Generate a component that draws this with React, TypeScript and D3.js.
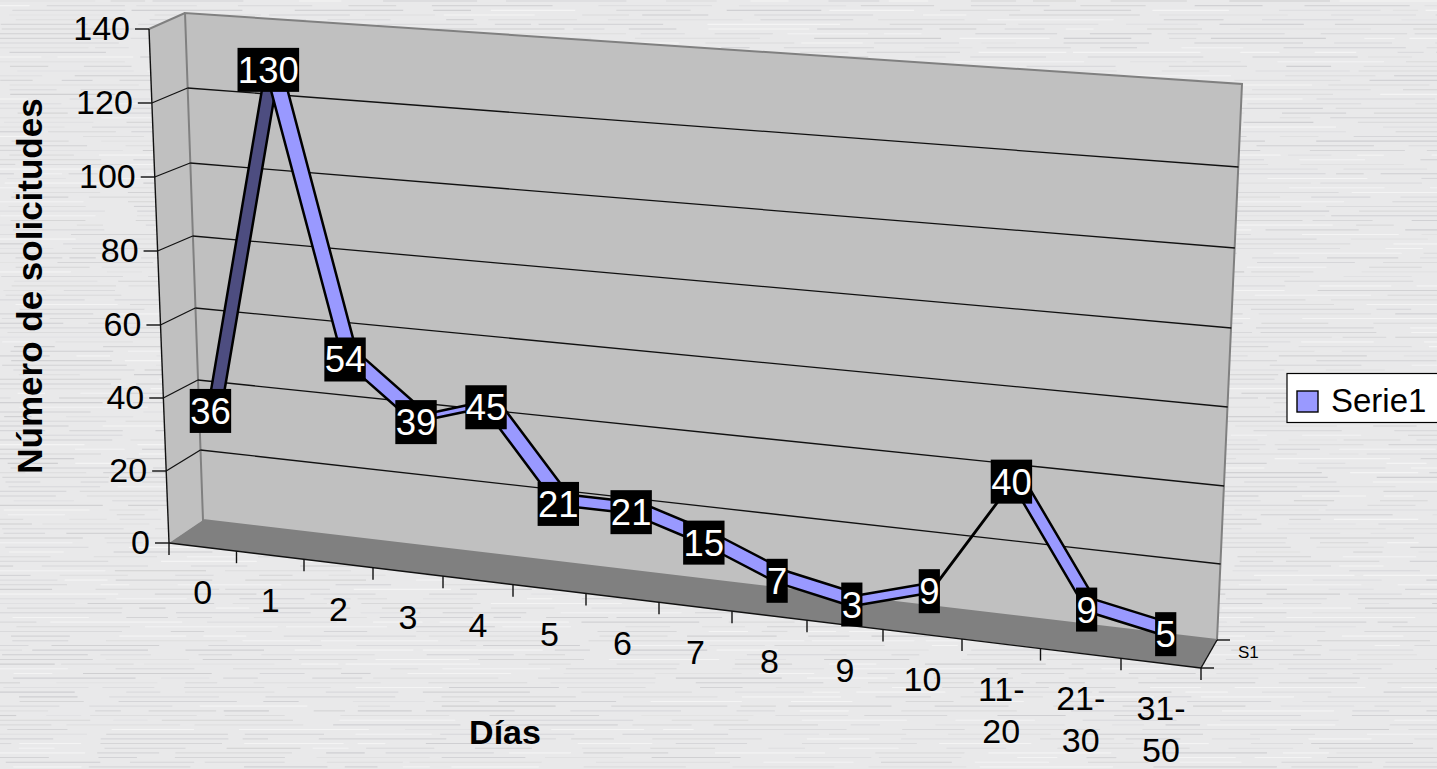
import React from "react";
import * as d3 from "d3";

const categories = ["0","1","2","3","4","5","6","7","8","9","10","11-20","21-30","31-50"];
const values = [36,130,54,39,45,21,21,15,7,3,9,40,9,5];
const yTicks = [0,20,40,60,80,100,120,140];
const yTitle = "Número de solicitudes";
const xTitle = "Días";
const seriesName = "Serie1";
const depthName = "S1";

const W = 1437, H = 769;
const FONT = "'Liberation Sans', Arial, sans-serif";

// frame geometry (scale ranges of the projected 3-D box)
const frontLeftY = d3.scaleLinear().domain(yTicks).range([543,471,398,325,251,177,103,29]);
const backLeftY = d3.scaleLinear().domain(yTicks).range([520,450,380,308,236,163,88,13]);
const backRightY = d3.scaleLinear().domain(yTicks).range([640,564,486,407,328,248,167,84]);
const frontRightY = (v:number) => 668 - (640 - backRightY(v)) * 1.014;
const frontLeftX = d3.scaleLinear().domain([0,140]).range([169,149]);
const backLeftX = d3.scaleLinear().domain([0,140]).range([203,185]);
const backRightX = d3.scaleLinear().domain([0,140]).range([1217,1242]);
const frontRightX = d3.scaleLinear().domain([0,140]).range([1201,1228]);
const xEdges = d3.scaleLinear().domain(d3.range(15)).range([169,236.5,304,373,443,513,586,659,732,807,883,962,1040.5,1121,1201]);

const lerp = (a:number,b:number,t:number) => a + (b-a)*t;
const project = (cat:number, v:number, d:number):[number,number] => {
  const u = (xEdges(cat) - 169) / (1201 - 169);
  const lx = lerp(frontLeftX(v), backLeftX(v), d), ly = lerp(frontLeftY(v), backLeftY(v), d);
  const rx = lerp(frontRightX(v), backRightX(v), d), ry = lerp(frontRightY(v), backRightY(v), d);
  return [lerp(lx,rx,u), lerp(ly,ry,u)];
};
const poly = (pts:[number,number][]) => (d3.line()(pts) ?? "") + "Z";

const D_FRONT = 0.28, D_BACK = 0.72, D_MID = 0.5;

function hash(a:number,b:number){ const s = Math.sin(a*127.1+b*311.7)*43758.5453; return s-Math.floor(s); }

function Streaks(){
  const out:React.ReactNode[] = [];
  const rows = d3.range(1, H, 4.67);
  rows.forEach((y,r)=>{
    let x = -20 + hash(r,0)*40;
    let k = 1;
    while(x < W){
      const len = 25 + hash(r,k)*110;
      const tone = hash(r,k+50);
      const light = tone > 0.8;
      out.push(<line key={r+"-"+k} x1={x} x2={x+len} y1={y} y2={y}
        stroke={light ? "#f6f6f6" : "#b8b8bc"} strokeWidth={1.1}
        strokeOpacity={light ? 0.8 : 0.12 + hash(r,k+90)*0.42} />);
      x += len + 6 + hash(r,k+130)*50;
      k++;
    }
  });
  return <g>{out}</g>;
}

export default function App(){
  const cx = (i:number)=> i+0.5;
  const segs = d3.pairs(values.map((v,i)=>({v,i})));
  const line = "#111";
  return (
    <svg width={W} height={H} viewBox={`0 0 ${W} ${H}`} style={{position:"fixed",left:0,top:0,display:"block"}} fontFamily={FONT}>
      <rect width={W} height={H} fill="#e9e9ea"/>
      <Streaks/>
      {/* walls */}
      <path d={poly([project(0,0,0),project(0,140,0),project(0,140,1),project(0,0,1)])} fill="#c0c0c0"/>
      <path d={poly([project(0,0,1),project(0,140,1),project(14,140,1),project(14,0,1)])} fill="#c0c0c0" stroke="#808080" strokeWidth={2}/>
      <path d={poly([project(0,0,0),project(0,0,1),project(14,0,1),project(14,0,0)])} fill="#808080"/>
      <path d={d3.line()([project(0,140,0),project(0,140,1)]) ?? ""} stroke="#808080" strokeWidth={2} fill="none"/>
      {/* gridlines */}
      {yTicks.filter(t=>t>0 && t<140).map(t=>(
        <g key={t} fill="none" stroke={line} strokeWidth={1.3}>
          <path d={d3.line()([project(0,t,0),project(0,t,1)]) ?? ""}/>
          <path d={d3.line()([project(0,t,1),project(14,t,1)]) ?? ""}/>
        </g>
      ))}
      {/* axes */}
      <g stroke={line} strokeWidth={1.4} fill="none">
        <path d={d3.line()([project(0,0,0),project(0,140,0)]) ?? ""}/>
        <path d={d3.line()([project(0,0,0),project(14,0,0)]) ?? ""}/>
        <path d={d3.line()([project(14,0,0),project(14,0,1)]) ?? ""}/>
        {yTicks.map(t=>{const [x,y]=project(0,t,0);return <line key={t} x1={x-14} x2={x} y1={y} y2={y}/>;})}
        {d3.range(15).map(i=>{const [x,y]=project(i,0,0);return <line key={i} x1={x} x2={x} y1={y} y2={y+12}/>;})}
        {[0,1].map(d=>{const [x,y]=project(14,0,d);return <line key={d} x1={x} x2={x+13} y1={y} y2={y}/>;})}
      </g>
      {/* ticks text */}
      <g fontSize={34} fill="#000">
        {yTicks.map(t=>{const [x,y]=project(0,t,0);return <text key={t} x={x-19} y={y+11} textAnchor="end">{t}</text>;})}
        {categories.map((c,i)=>{
          const [x,y]=project(cx(i),0,0);
          const m=c.match(/^(\d+)-(\d+)$/);
          const by=y+57;
          return m ? <text key={c} textAnchor="middle"><tspan x={x} y={by}>{m[1]+"-"}</tspan><tspan x={x} y={by+42}>{m[2]}</tspan></text>
            : <text key={c} x={x} y={by} textAnchor="middle">{c}</text>;
        })}
      </g>
      <text x={1238} y={658} fontSize={17} fill="#000">{depthName}</text>
      <text transform="translate(42,286) rotate(-90)" textAnchor="middle" fontSize={35} fontWeight="bold">{yTitle}</text>
      <text x={505} y={744} textAnchor="middle" fontSize={34} fontWeight="bold">{xTitle}</text>
      {/* ribbon */}
      {segs.map(([a,b])=>{
        const p1=project(cx(a.i),a.v,D_FRONT),p2=project(cx(b.i),b.v,D_FRONT),p3=project(cx(b.i),b.v,D_BACK),p4=project(cx(a.i),a.v,D_BACK);
        const dx=p2[0]-p1[0],dy=p2[1]-p1[1],ox=p4[0]-p1[0],oy=p4[1]-p1[1];
        const underside = dx*oy-dy*ox > 0;
        return <path key={a.i} d={poly([p1,p2,p3,p4])} fill={underside?"#4d4d80":"#9999ff"} stroke="#000" strokeWidth={2.5} strokeLinejoin="round"/>;
      })}
      {/* data labels */}
      {values.map((v,i)=>{
        const [px,py]=project(cx(i),v,D_MID);
        const x=px-4.5, y=py+4;
        const s=String(v);
        const w=s.length*20.2+1;
        return <g key={i}>
          <rect x={x-w/2} y={y-22} width={w} height={44} fill="#000"/>
          <text x={x} y={y+13} textAnchor="middle" fontSize={36.5} fill="#fff">{s}</text>
        </g>;
      })}
      {/* legend */}
      <rect x={1287} y={373.5} width={160} height={49} fill="#fff" stroke="#000" strokeWidth={1.2}/>
      <rect x={1297} y={391} width={21} height={21} fill="#9999ff" stroke="#000" strokeWidth={1.4}/>
      <text x={1331} y={412} fontSize={33} fill="#000">{seriesName}</text>
    </svg>
  );
}
